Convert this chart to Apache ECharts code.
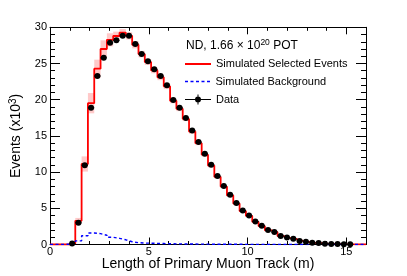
<!DOCTYPE html>
<html>
<head>
<meta charset="utf-8">
<script src="https://cdn.jsdelivr.net/npm/echarts@6/dist/echarts.min.js"></script>
<style>
html,body{margin:0;padding:0;background:#fff;}
#c{width:407px;height:276px;}
</style>
</head>
<body>
<div id="c"></div>
<script>
// Bin edges of the histogram (m)
const binEdges = [0, 0.32, 0.64, 0.96, 1.28, 1.6, 1.92, 2.24, 2.56, 2.88, 3.2, 3.52, 3.84, 4.16, 4.48, 4.8,
  5.12, 5.44, 5.76, 6.08, 6.4, 6.72, 7.04, 7.36, 7.68, 8.0, 8.32, 8.64, 8.96, 9.28, 9.6, 9.92, 10.24,
  10.56, 10.88, 11.2, 11.52, 11.84, 12.16, 12.48, 12.8, 13.12, 13.44, 13.76, 14.08, 14.4, 14.72,
  15.04, 15.36, 15.68, 16.0];

// Data points (events x10^3), one per bin (null = no point)
const dataValues = [null, null, null, 0.14, 2.99, 10.94, 18.88, 23.27, 25.78, 27.85, 28.2, 28.82, 28.82,
  27.7, 26.32, 25.32, 24.19, 23.27, 22.01, 19.97, 18.88, 17.48, 15.75, 14.15, 12.52, 11.02, 9.45, 8.08,
  6.86, 5.72, 4.68, 4.00, 3.18, 2.59, 2.0, 1.73, 1.18, 0.95, 0.78, 0.50, 0.37, 0.23, 0.19, 0.12, 0.08,
  0.06, 0.04, 0.03, null, null];

// Simulated selected events (red histogram)
const simSelected = [0, 0, 0, 0.15, 3.27, 11.12, 19.52, 24.28, 27.0, 28.27, 28.8, 29.26, 28.82, 27.59,
  26.3, 25.2, 24.05, 23.1, 21.85, 19.85, 18.75, 17.35, 15.6, 14.0, 12.4, 10.9, 9.35, 8.0, 6.78, 5.65,
  4.62, 3.95, 3.13, 2.55, 1.97, 1.7, 1.16, 0.93, 0.76, 0.49, 0.36, 0.22, 0.18, 0.11, 0.08, 0.06, 0.04,
  0.03, 0.02, 0.01];

// Systematic uncertainty (half width of band)
const simError = [0, 0, 0, 0.05, 0.4, 1.05, 1.4, 1.25, 1.2, 0.9, 0.6, 0.5, 0.5, 0.5, 0.45, 0.4, 0.4,
  0.4, 0.38, 0.35, 0.33, 0.3, 0.3, 0.28, 0.26, 0.24, 0.22, 0.2, 0.18, 0.16, 0.15, 0.13, 0.12, 0.1,
  0.09, 0.08, 0.07, 0.06, 0.05, 0.04, 0.04, 0.03, 0.03, 0.02, 0.02, 0.02, 0.01, 0.01, 0.01, 0.01];

// Simulated background (blue dashed histogram)
const simBackground = [0.02, 0.02, 0.03, 0.05, 0.5, 1.2, 1.58, 1.5, 1.28, 1.0, 0.85, 0.65, 0.38, 0.25,
  0.2, 0.18, 0.15, 0.13, 0.11, 0.09, 0.08, 0.07, 0.06, 0.05, 0.05, 0.04, 0.04, 0.03, 0.03, 0.03, 0.02,
  0.02, 0.02, 0.02, 0.02, 0.01, 0.01, 0.01, 0.01, 0.01, 0.01, 0.01, 0.01, 0.01, 0.01, 0.01, 0.01, 0.01,
  0.01, 0.01];

const xTicks = [0, 5, 10, 15];
const yTicks = [0, 5, 10, 15, 20, 25, 30];

const FONT = 'Liberation Sans, Arial, Helvetica, sans-serif';

function stepPoints(vals) {
  const pts = [];
  for (let i = 0; i < vals.length; i++) {
    pts.push([binEdges[i], vals[i]]);
    pts.push([binEdges[i + 1], vals[i]]);
  }
  return pts;
}

const bandData = simSelected.map((v, i) => [binEdges[i], binEdges[i + 1], v - simError[i], v + simError[i]]);
const pointData = [];
const xErrData = [];
dataValues.forEach((v, i) => {
  if (v === null) return;
  pointData.push([(binEdges[i] + binEdges[i + 1]) / 2, v]);
  xErrData.push([binEdges[i], binEdges[i + 1], v]);
});

const chart = echarts.init(document.getElementById('c'), null, {renderer: 'canvas'});

function xAxisDef(pos, showLabels) {
  return {
    type: 'value', position: pos, min: 0, max: 16, interval: 5,
    axisLine: {show: true, onZero: false, lineStyle: {color: '#000', width: 1}},
    axisTick: {show: true, inside: true, length: 7, lineStyle: {color: '#000'}},
    minorTick: {show: true, splitNumber: 5, length: 3.5, lineStyle: {color: '#000'}},
    splitLine: {show: false},
    axisLabel: {show: showLabels, color: '#000', fontSize: 11, fontFamily: FONT, margin: 2,
      showMaxLabel: false, formatter: v => xTicks.indexOf(v) >= 0 ? String(v) : ''},
    name: showLabels ? 'Length of Primary Muon Track (m)' : '',
    nameLocation: 'middle', nameGap: 12.5, nameMoveOverlap: false,
    nameTextStyle: {color: '#000', fontSize: 14, fontFamily: FONT}
  };
}
function yAxisDef(pos, showLabels) {
  return {
    type: 'value', position: pos, min: 0, max: 30, interval: 5,
    axisLine: {show: true, onZero: false, lineStyle: {color: '#000', width: 1}},
    axisTick: {show: true, inside: true, length: 10, lineStyle: {color: '#000'}},
    minorTick: {show: true, splitNumber: 5, length: 5, lineStyle: {color: '#000'}},
    splitLine: {show: false},
    axisLabel: {show: showLabels, color: '#000', fontSize: 11, fontFamily: FONT, margin: 3,
      formatter: v => yTicks.indexOf(v) >= 0 ? String(v) : ''},
    name: showLabels ? '{a|Events (x10}{s|3}{a|)}' : '',
    nameLocation: 'middle', nameGap: 26, nameRotate: 90, nameMoveOverlap: false,
    nameTextStyle: {color: '#000', fontSize: 14, fontFamily: FONT,
      rich: {a: {fontSize: 14, fontFamily: FONT, color: '#000'},
             s: {fontSize: 10, fontFamily: FONT, color: '#000', verticalAlign: 'top', padding: [0, 0, 6, 0]}}}
  };
}

const dataIcon = 'path://M0,4.5H26V5.5H0Z M12.5,0H13.5V10H12.5Z M16,5A3,3 0 1 1 10,5A3,3 0 1 1 16,5Z';
const redIcon = 'path://M0,0H26V2H0Z';
const blueIcon = 'path://M0,0H3V1.5H0Z M5.5,0H8.5V1.5H5.5Z M11,0H14V1.5H11Z M16.5,0H19.5V1.5H16.5Z M22,0H25V1.5H22Z';

function legendDef(name, center, icon, h) {
  return {
    data: [{name: name, icon: icon}], left: 185, top: center - 5, orient: 'vertical',
    itemWidth: 26, itemHeight: h, itemGap: 0, selectedMode: false,
    textStyle: {color: '#000', fontSize: 11, fontFamily: FONT},
    padding: 0
  };
}

const option = {
  animation: false,
  backgroundColor: '#fff',
  grid: {left: 40.6, right: 41, top: 27.3, bottom: 28.3, containLabel: false},
  xAxis: [xAxisDef('bottom', true), xAxisDef('top', false)],
  yAxis: [yAxisDef('left', true), yAxisDef('right', false)],
  legend: [
    legendDef('Simulated Selected Events', 63.5, redIcon, 2),
    legendDef('Simulated Background', 81, blueIcon, 1.5),
    legendDef('Data', 99, dataIcon, 10)
  ],
  graphic: [{
    type: 'text', left: 186, top: 38.5, z: 10,
    style: {
      text: '{a|ND, 1.66 × 10}{s|20}{a| POT}',
      rich: {
        a: {fontSize: 12, fontFamily: FONT, fill: '#000'},
        s: {fontSize: 8.5, fontFamily: FONT, fill: '#000', padding: [0, 0, 6, 0]}
      }
    }
  }],
  series: [
    {
      type: 'custom', name: 'band', xAxisIndex: 0, yAxisIndex: 0, z: 1, silent: true,
      data: bandData, encode: {x: [0, 1], y: [2, 3]},
      renderItem: function (params, api) {
        const p0 = api.coord([api.value(0), api.value(3)]);
        const p1 = api.coord([api.value(1), api.value(2)]);
        return {type: 'rect', shape: {x: p0[0], y: p0[1], width: p1[0] - p0[0], height: p1[1] - p0[1]},
          style: {fill: '#ffc9c9'}};
      }
    },
    {
      type: 'line', name: 'Simulated Selected Events', xAxisIndex: 0, yAxisIndex: 0, z: 2,
      data: stepPoints(simSelected), symbol: 'none', showSymbol: false,
      lineStyle: {color: '#ff0000', width: 1.8}, itemStyle: {color: '#ff0000'}, silent: true
    },
    {
      type: 'line', name: 'Simulated Background', xAxisIndex: 0, yAxisIndex: 0, z: 3,
      data: stepPoints(simBackground), symbol: 'none', showSymbol: false,
      lineStyle: {color: '#0000ff', width: 1.4, type: [3, 2.5]}, itemStyle: {color: '#0000ff'}, silent: true
    },
    {
      type: 'custom', name: 'xerr', xAxisIndex: 0, yAxisIndex: 0, z: 4, silent: true,
      data: xErrData, encode: {x: [0, 1], y: 2},
      renderItem: function (params, api) {
        const a = api.coord([api.value(0), api.value(2)]);
        const b = api.coord([api.value(1), api.value(2)]);
        return {type: 'line', shape: {x1: a[0], y1: a[1], x2: b[0], y2: b[1]},
          style: {stroke: '#000', lineWidth: 1}};
      }
    },
    {
      type: 'scatter', name: 'Data', xAxisIndex: 0, yAxisIndex: 0, z: 5,
      data: pointData, symbol: 'circle', symbolSize: 6,
      itemStyle: {color: '#000', opacity: 1}, silent: true
    }
  ]
};
chart.setOption(option);
</script>
</body>
</html>
